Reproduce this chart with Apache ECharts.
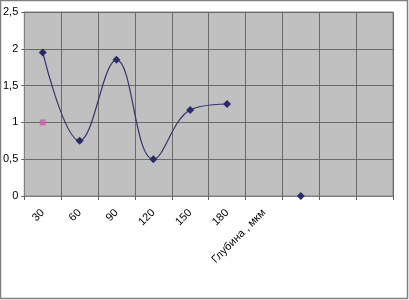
<!DOCTYPE html>
<html>
<head>
<meta charset="utf-8">
<script src="https://cdn.jsdelivr.net/npm/echarts@6/dist/echarts.min.js"></script>
<style>
html,body{margin:0;padding:0;background:#fff;}
#c{width:409px;height:300px;}
</style>
</head>
<body>
<div id="c"></div>
<script>
const categories = ['30', '60', '90', '120', '150', '180', 'Глубина , мкм', '', '', ''];
const seriesMain = [1.95, 0.75, 1.85, 0.5, 1.17, 1.25, null, 0, null, null];
const seriesSecond = [1, null, null, null, null, null, null, null, null, null];
const yTicks = { min: 0, max: 2.5, interval: 0.5 };

const chart = echarts.init(document.getElementById('c'), null, { renderer: 'canvas' });
chart.setOption({
  animation: false,
  backgroundColor: '#ffffff',
  textStyle: { fontFamily: 'Liberation Sans, Arial, sans-serif' },
  graphic: [{
    type: 'rect',
    shape: { x: 0.5, y: 0.5, width: 407, height: 298 },
    style: { fill: 'none', stroke: '#808080', lineWidth: 1.5 },
    z: -1
  }],
  grid: {
    left: 21, right: 16, top: 12, bottom: 104,
    show: true, backgroundColor: '#c0c0c0', borderColor: '#808080', borderWidth: 1
  },
  xAxis: {
    type: 'category',
    data: categories,
    boundaryGap: true,
    axisLine: { show: true, lineStyle: { color: '#808080', width: 1 } },
    axisTick: { show: true, length: 4, lineStyle: { color: '#606060' } },
    splitLine: { show: true, lineStyle: { color: '#6a6a6a', width: 1 } },
    axisLabel: {
      rotate: 45, margin: 15, color: '#000', fontSize: 11, interval: 0,
      fontFamily: 'Liberation Sans, Arial, sans-serif'
    }
  },
  yAxis: {
    type: 'value',
    min: yTicks.min, max: yTicks.max, interval: yTicks.interval,
    axisLine: { show: true, lineStyle: { color: '#808080' } },
    axisTick: { show: true, length: 3, lineStyle: { color: '#606060' } },
    splitLine: { show: true, lineStyle: { color: '#6a6a6a', width: 1 } },
    axisLabel: {
      color: '#000', fontSize: 11, margin: 6,
      fontFamily: 'Liberation Sans, Arial, sans-serif',
      formatter: v => String(v).replace('.', ',')
    }
  },
  series: [
    {
      type: 'line',
      data: seriesMain,
      smooth: 0.4,
      connectNulls: false,
      symbol: 'diamond',
      symbolSize: 8,
      showAllSymbol: true,
      itemStyle: { color: '#2a2a6a' },
      lineStyle: { color: '#33336e', width: 1.2 }
    },
    {
      type: 'scatter',
      data: seriesSecond,
      symbol: 'rect',
      symbolSize: 6,
      itemStyle: { color: '#cc5fa8' }
    }
  ]
});
</script>
</body>
</html>
